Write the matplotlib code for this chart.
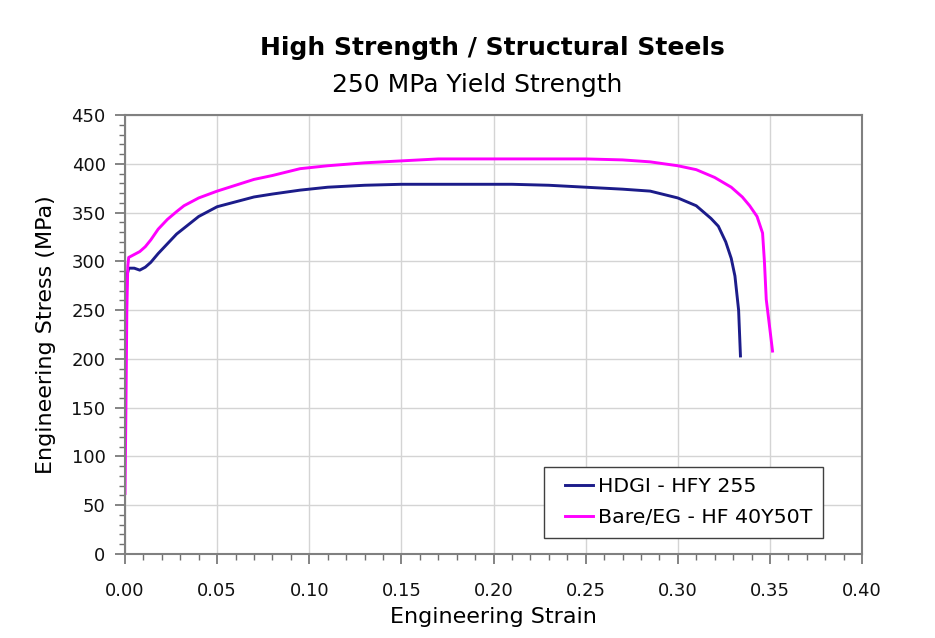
import numpy as np
import matplotlib.pyplot as plt
from matplotlib.ticker import MultipleLocator

# ==================== data

HDGI_STRAIN = [0.0, 0.0005, 0.001, 0.002, 0.005, 0.008, 0.011, 0.014, 0.018,
               0.023, 0.028, 0.032, 0.04, 0.05, 0.06, 0.07, 0.08, 0.095,
               0.11, 0.13, 0.15, 0.17, 0.19, 0.21, 0.23, 0.25, 0.27, 0.285,
               0.30, 0.31, 0.318, 0.322, 0.326, 0.329, 0.331, 0.333, 0.334]
HDGI_STRESS = [175, 240, 285, 293, 293, 291, 294, 299, 308,
               318, 328, 334, 346, 356, 361, 366, 369, 373,
               376, 378, 379, 379, 379, 379, 378, 376, 374, 372,
               365, 357, 344, 336, 320, 303, 285, 250, 203]

BARE_STRAIN = [0.0, 0.0005, 0.001, 0.0015, 0.002, 0.005, 0.008, 0.011, 0.014,
               0.018, 0.023, 0.028, 0.032, 0.04, 0.05, 0.06, 0.07, 0.08,
               0.095, 0.11, 0.13, 0.15, 0.17, 0.19, 0.21, 0.23, 0.25, 0.27,
               0.285, 0.30, 0.31, 0.32, 0.329, 0.335, 0.339, 0.343, 0.346,
               0.347, 0.348, 0.35, 0.3514]
BARE_STRESS = [62, 150, 250, 295, 304, 307, 310, 315, 322,
               333, 343, 351, 357, 365, 372, 378, 384, 388,
               395, 398, 401, 403, 405, 405, 405, 405, 405, 404,
               402, 398, 394, 386, 376, 366, 357, 346, 329,
               300, 261, 230, 208]

SERIES = [
    ('HDGI - HFY 255', HDGI_STRAIN, HDGI_STRESS, '#1c1c8a'),
    ('Bare/EG - HF 40Y50T', BARE_STRAIN, BARE_STRESS, '#ff00ff'),
]

# ==================== plot

plt.rcParams['font.family'] = ['DejaVu Sans']

fig = plt.figure(figsize=(9.35, 6.38), dpi=100)
ax = fig.add_axes([0.1337, 0.1317, 0.7883, 0.688])

for label, x, y, c in SERIES:
    ax.plot(x, y, color=c, lw=2.1, label=label)

ax.set_xlim(0, 0.40)
ax.set_ylim(0, 450)
ax.xaxis.set_major_locator(MultipleLocator(0.05))
ax.xaxis.set_minor_locator(MultipleLocator(0.01))
ax.yaxis.set_major_locator(MultipleLocator(50))
ax.yaxis.set_minor_locator(MultipleLocator(10))
ax.xaxis.set_major_formatter(lambda v, p: f'{v:.2f}')

ax.grid(which='major', color='#d4d4d4', lw=1.0)
ax.set_axisbelow(True)
for side in ax.spines.values():
    side.set_color('#808080')
    side.set_linewidth(1.5)

ax.tick_params(which='major', direction='out', length=7, width=1.2,
               color='#707070', labelsize=13, labelcolor='#111111')
ax.tick_params(which='minor', direction='out', length=4.5, width=1.0,
               color='#707070')
ax.tick_params(axis='x', which='major', pad=13)
ax.tick_params(axis='y', which='major', pad=7)

ax.set_xlabel('Engineering Strain', fontsize=16)
ax.set_ylabel('Engineering Stress (MPa)', fontsize=16)
ax.xaxis.set_label_coords(0.5, -0.121)
ax.yaxis.set_label_coords(-0.094, 0.5)

fig.text(0.527, 0.914, 'High Strength / Structural Steels', ha='center',
         va='baseline', fontsize=18, fontweight='bold')
fig.text(0.510, 0.856, '250 MPa Yield Strength', ha='center',
         va='baseline', fontsize=18)

# legend: short line handles sitting on the right of a wider handle box
fs = 14.75
hl, line_len = 1.9, 1.35
leg = ax.legend(loc='lower right', bbox_to_anchor=(0.9467, 0.0372),
                fontsize=fs, handlelength=hl, handletextpad=0.25,
                borderpad=0.5, borderaxespad=0, labelspacing=0.6,
                fancybox=False, edgecolor='#404040', framealpha=1)
leg.get_frame().set_linewidth(1.0)
for ln in leg.get_lines():
    yd = ln.get_ydata()
    ln.set_xdata(np.linspace((hl - line_len) * fs, hl * fs, len(yd)))

fig.savefig('out.png', dpi=100, facecolor='white')
